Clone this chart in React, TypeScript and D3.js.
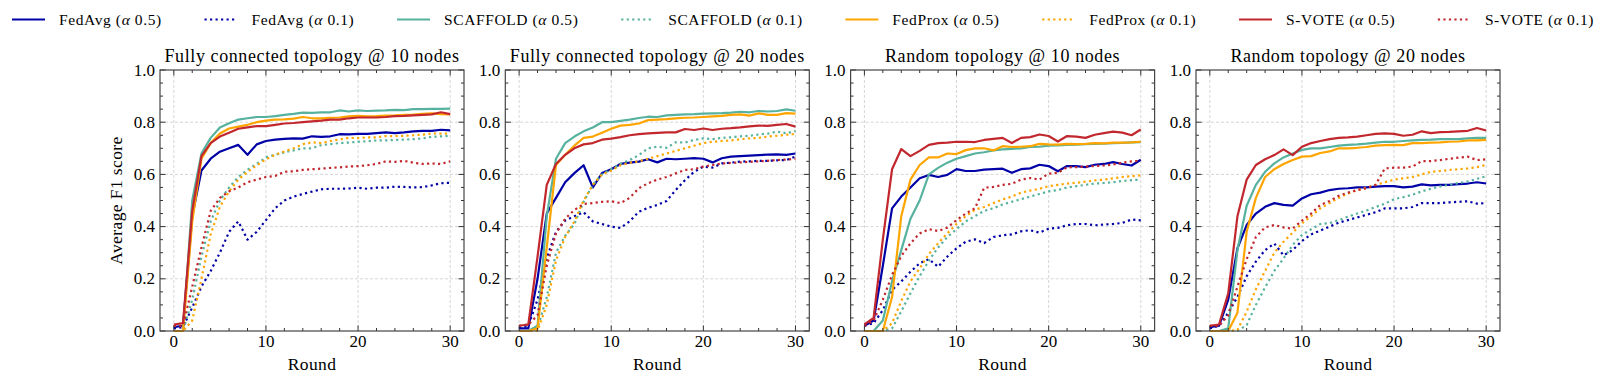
import React, { useEffect, useRef } from 'react';
import * as d3 from 'd3';

const rounds = [0, 1, 2, 3, 4, 5, 6, 7, 8, 9, 10, 11, 12, 13, 14, 15, 16, 17, 18, 19, 20, 21, 22, 23, 24, 25, 26, 27, 28, 29, 30];
const methods = ['FedAvg', 'SCAFFOLD', 'FedProx', 'S-VOTE'];
const alphas = ['0.5', '0.1'];
const methodColors = ['#0000a7', '#56b29e', '#ffa500', '#c1272d'];
const titles = [
  'Fully connected topology @ 10 nodes',
  'Fully connected topology @ 20 nodes',
  'Random topology @ 10 nodes',
  'Random topology @ 20 nodes',
];
const xTicks = [0, 10, 20, 30];
const yTicks = [0, 0.2, 0.4, 0.6, 0.8, 1.0];

// fully connected, 10 nodes
const fc10FedAvg05 = [0.015, 0.02, 0.44, 0.615, 0.66, 0.687, 0.70, 0.713, 0.675, 0.715, 0.728, 0.733, 0.736, 0.738, 0.737, 0.746, 0.744, 0.746, 0.754, 0.753, 0.755, 0.755, 0.758, 0.761, 0.758, 0.761, 0.765, 0.767, 0.767, 0.771, 0.769];
const fc10FedAvg01 = [0.01, 0.015, 0.09, 0.17, 0.23, 0.30, 0.38, 0.42, 0.35, 0.38, 0.425, 0.47, 0.50, 0.515, 0.525, 0.534, 0.543, 0.545, 0.545, 0.546, 0.549, 0.545, 0.549, 0.549, 0.553, 0.552, 0.55, 0.551, 0.558, 0.566, 0.568];
const fc10Scaffold05 = [0.0, 0.0, 0.50, 0.68, 0.74, 0.78, 0.796, 0.81, 0.815, 0.82, 0.82, 0.823, 0.828, 0.832, 0.837, 0.836, 0.838, 0.838, 0.845, 0.841, 0.845, 0.843, 0.844, 0.845, 0.847, 0.846, 0.85, 0.85, 0.851, 0.851, 0.852];
const fc10Scaffold01 = [0.0, 0.0, 0.12, 0.285, 0.42, 0.50, 0.55, 0.59, 0.618, 0.64, 0.665, 0.675, 0.685, 0.692, 0.70, 0.70, 0.712, 0.716, 0.72, 0.722, 0.725, 0.727, 0.73, 0.73, 0.732, 0.733, 0.735, 0.738, 0.744, 0.746, 0.748];
const fc10FedProx05 = [0.0, 0.0, 0.42, 0.66, 0.72, 0.757, 0.776, 0.783, 0.79, 0.80, 0.806, 0.81, 0.811, 0.814, 0.82, 0.815, 0.815, 0.817, 0.818, 0.822, 0.824, 0.822, 0.823, 0.825, 0.826, 0.828, 0.829, 0.832, 0.834, 0.831, 0.83];
const fc10FedProx01 = [0.0, 0.0, 0.04, 0.2, 0.37, 0.475, 0.535, 0.58, 0.61, 0.635, 0.658, 0.675, 0.688, 0.70, 0.716, 0.723, 0.72, 0.728, 0.734, 0.74, 0.739, 0.742, 0.742, 0.747, 0.747, 0.748, 0.75, 0.752, 0.757, 0.756, 0.757];
const fc10SVote05 = [0.025, 0.03, 0.46, 0.67, 0.72, 0.745, 0.76, 0.775, 0.78, 0.785, 0.785, 0.79, 0.795, 0.797, 0.80, 0.803, 0.806, 0.81, 0.81, 0.815, 0.818, 0.818, 0.818, 0.82, 0.823, 0.824, 0.826, 0.828, 0.83, 0.838, 0.831];
const fc10SVote01 = [0.02, 0.02, 0.17, 0.32, 0.46, 0.51, 0.535, 0.55, 0.57, 0.58, 0.59, 0.594, 0.61, 0.612, 0.617, 0.62, 0.622, 0.625, 0.627, 0.63, 0.632, 0.635, 0.64, 0.65, 0.648, 0.652, 0.645, 0.64, 0.642, 0.64, 0.65];

// fully connected, 20 nodes
const fc20FedAvg05 = [0.01, 0.01, 0.2, 0.45, 0.51, 0.57, 0.605, 0.635, 0.55, 0.605, 0.62, 0.64, 0.645, 0.649, 0.658, 0.646, 0.66, 0.658, 0.66, 0.662, 0.66, 0.646, 0.662, 0.668, 0.67, 0.672, 0.674, 0.676, 0.677, 0.675, 0.68];
const fc20FedAvg01 = [0.01, 0.02, 0.12, 0.28, 0.38, 0.423, 0.44, 0.455, 0.42, 0.41, 0.40, 0.395, 0.42, 0.457, 0.472, 0.483, 0.498, 0.54, 0.578, 0.61, 0.63, 0.626, 0.642, 0.645, 0.649, 0.65, 0.652, 0.652, 0.654, 0.655, 0.668];
const fc20Scaffold05 = [0.0, 0.0, 0.02, 0.44, 0.66, 0.72, 0.745, 0.765, 0.78, 0.80, 0.80, 0.805, 0.81, 0.816, 0.821, 0.82, 0.826, 0.828, 0.83, 0.831, 0.833, 0.834, 0.835, 0.837, 0.84, 0.838, 0.843, 0.841, 0.843, 0.849, 0.844];
const fc20Scaffold01 = [0.0, 0.0, 0.01, 0.13, 0.30, 0.365, 0.41, 0.495, 0.56, 0.60, 0.62, 0.64, 0.655, 0.674, 0.70, 0.706, 0.702, 0.723, 0.722, 0.732, 0.738, 0.735, 0.74, 0.742, 0.746, 0.748, 0.753, 0.756, 0.764, 0.758, 0.766];
const fc20FedProx05 = [0.0, 0.0, 0.01, 0.32, 0.636, 0.675, 0.71, 0.74, 0.745, 0.76, 0.775, 0.787, 0.79, 0.795, 0.808, 0.81, 0.812, 0.815, 0.817, 0.818, 0.82, 0.822, 0.824, 0.828, 0.83, 0.825, 0.834, 0.828, 0.828, 0.835, 0.833];
const fc20FedProx01 = [0.0, 0.0, 0.0, 0.1, 0.27, 0.36, 0.42, 0.50, 0.56, 0.60, 0.615, 0.635, 0.645, 0.65, 0.66, 0.67, 0.68, 0.69, 0.70, 0.71, 0.72, 0.725, 0.728, 0.73, 0.735, 0.738, 0.74, 0.745, 0.748, 0.752, 0.755];
const fc20SVote05 = [0.02, 0.025, 0.285, 0.56, 0.64, 0.675, 0.70, 0.715, 0.72, 0.733, 0.737, 0.743, 0.75, 0.754, 0.757, 0.759, 0.761, 0.761, 0.774, 0.77, 0.776, 0.77, 0.775, 0.777, 0.78, 0.784, 0.787, 0.786, 0.79, 0.793, 0.783];
const fc20SVote01 = [0.02, 0.025, 0.06, 0.25, 0.374, 0.43, 0.464, 0.487, 0.49, 0.495, 0.497, 0.49, 0.51, 0.547, 0.566, 0.58, 0.59, 0.604, 0.617, 0.62, 0.63, 0.636, 0.642, 0.644, 0.646, 0.648, 0.65, 0.652, 0.655, 0.657, 0.66];

// random, 10 nodes
const rd10FedAvg05 = [0.02, 0.04, 0.25, 0.47, 0.515, 0.55, 0.585, 0.598, 0.59, 0.598, 0.62, 0.613, 0.613, 0.618, 0.62, 0.622, 0.606, 0.62, 0.623, 0.637, 0.632, 0.612, 0.632, 0.632, 0.628, 0.637, 0.64, 0.647, 0.64, 0.634, 0.656];
const rd10FedAvg01 = [0.02, 0.03, 0.08, 0.157, 0.19, 0.227, 0.26, 0.275, 0.246, 0.285, 0.317, 0.342, 0.351, 0.337, 0.36, 0.367, 0.37, 0.382, 0.386, 0.377, 0.392, 0.395, 0.405, 0.41, 0.41, 0.405, 0.408, 0.41, 0.414, 0.427, 0.424];
const rd10Scaffold05 = [0.0, 0.0, 0.04, 0.19, 0.31, 0.43, 0.50, 0.60, 0.625, 0.645, 0.66, 0.67, 0.68, 0.685, 0.692, 0.696, 0.698, 0.70, 0.705, 0.706, 0.71, 0.711, 0.713, 0.714, 0.716, 0.717, 0.718, 0.72, 0.721, 0.723, 0.724];
const rd10Scaffold01 = [0.0, 0.0, 0.0, 0.01, 0.075, 0.145, 0.21, 0.27, 0.32, 0.36, 0.39, 0.42, 0.44, 0.46, 0.47, 0.485, 0.495, 0.505, 0.515, 0.525, 0.535, 0.54, 0.55, 0.555, 0.56, 0.565, 0.567, 0.57, 0.575, 0.578, 0.58];
const rd10FedProx05 = [0.0, 0.0, 0.0, 0.13, 0.44, 0.58, 0.636, 0.665, 0.665, 0.68, 0.678, 0.693, 0.70, 0.70, 0.692, 0.708, 0.705, 0.706, 0.708, 0.717, 0.715, 0.714, 0.717, 0.716, 0.717, 0.72, 0.719, 0.722, 0.722, 0.723, 0.725];
const rd10FedProx01 = [0.0, 0.0, 0.0, 0.03, 0.115, 0.19, 0.24, 0.295, 0.336, 0.374, 0.41, 0.44, 0.465, 0.475, 0.49, 0.504, 0.515, 0.53, 0.538, 0.545, 0.555, 0.56, 0.565, 0.568, 0.572, 0.577, 0.58, 0.585, 0.59, 0.593, 0.596];
const rd10SVote05 = [0.025, 0.05, 0.35, 0.62, 0.697, 0.67, 0.69, 0.713, 0.72, 0.722, 0.725, 0.725, 0.724, 0.732, 0.736, 0.74, 0.72, 0.74, 0.743, 0.753, 0.747, 0.726, 0.747, 0.745, 0.74, 0.752, 0.758, 0.764, 0.76, 0.75, 0.772];
const rd10SVote01 = [0.02, 0.04, 0.12, 0.215, 0.287, 0.336, 0.374, 0.39, 0.383, 0.396, 0.425, 0.45, 0.47, 0.549, 0.552, 0.56, 0.564, 0.58, 0.586, 0.58, 0.603, 0.606, 0.627, 0.628, 0.63, 0.632, 0.634, 0.638, 0.645, 0.65, 0.652];

// random, 20 nodes
const rd20FedAvg05 = [0.015, 0.02, 0.12, 0.317, 0.406, 0.45, 0.476, 0.49, 0.483, 0.48, 0.508, 0.524, 0.53, 0.54, 0.545, 0.547, 0.55, 0.55, 0.553, 0.555, 0.555, 0.55, 0.553, 0.562, 0.558, 0.56, 0.56, 0.563, 0.565, 0.57, 0.565];
const rd20FedAvg01 = [0.01, 0.02, 0.07, 0.13, 0.21, 0.266, 0.31, 0.335, 0.29, 0.31, 0.345, 0.37, 0.385, 0.40, 0.415, 0.425, 0.435, 0.445, 0.455, 0.47, 0.47, 0.47, 0.475, 0.49, 0.49, 0.49, 0.493, 0.495, 0.497, 0.488, 0.49];
const rd20Scaffold05 = [0.0, 0.0, 0.01, 0.31, 0.48, 0.56, 0.61, 0.642, 0.665, 0.68, 0.694, 0.70, 0.70, 0.705, 0.71, 0.713, 0.715, 0.718, 0.722, 0.725, 0.725, 0.728, 0.73, 0.732, 0.733, 0.735, 0.735, 0.735, 0.738, 0.74, 0.74];
const rd20Scaffold01 = [0.0, 0.0, 0.0, 0.0, 0.023, 0.10, 0.167, 0.23, 0.278, 0.33, 0.368, 0.39, 0.41, 0.413, 0.425, 0.438, 0.45, 0.462, 0.475, 0.488, 0.505, 0.513, 0.522, 0.535, 0.545, 0.554, 0.56, 0.567, 0.573, 0.583, 0.593];
const rd20FedProx05 = [0.0, 0.0, 0.0, 0.07, 0.38, 0.51, 0.59, 0.62, 0.64, 0.655, 0.668, 0.67, 0.682, 0.688, 0.70, 0.70, 0.702, 0.705, 0.71, 0.712, 0.713, 0.712, 0.72, 0.72, 0.722, 0.723, 0.725, 0.726, 0.73, 0.73, 0.732];
const rd20FedProx01 = [0.0, 0.0, 0.0, 0.004, 0.074, 0.16, 0.23, 0.30, 0.342, 0.377, 0.412, 0.44, 0.47, 0.49, 0.51, 0.527, 0.54, 0.549, 0.56, 0.57, 0.58, 0.585, 0.59, 0.60, 0.61, 0.613, 0.617, 0.62, 0.623, 0.628, 0.636];
const rd20SVote05 = [0.02, 0.025, 0.144, 0.44, 0.58, 0.636, 0.658, 0.674, 0.696, 0.674, 0.706, 0.72, 0.728, 0.735, 0.74, 0.742, 0.745, 0.75, 0.755, 0.757, 0.755, 0.748, 0.752, 0.765, 0.758, 0.762, 0.763, 0.765, 0.767, 0.778, 0.768];
const rd20SVote01 = [0.02, 0.02, 0.06, 0.17, 0.275, 0.36, 0.397, 0.406, 0.397, 0.392, 0.423, 0.45, 0.483, 0.498, 0.518, 0.53, 0.54, 0.547, 0.56, 0.623, 0.626, 0.626, 0.63, 0.651, 0.651, 0.655, 0.66, 0.664, 0.668, 0.655, 0.658];

// series per panel, in legend order: method x alpha
const panelSeries = [
  [fc10FedAvg05, fc10FedAvg01, fc10Scaffold05, fc10Scaffold01, fc10FedProx05, fc10FedProx01, fc10SVote05, fc10SVote01],
  [fc20FedAvg05, fc20FedAvg01, fc20Scaffold05, fc20Scaffold01, fc20FedProx05, fc20FedProx01, fc20SVote05, fc20SVote01],
  [rd10FedAvg05, rd10FedAvg01, rd10Scaffold05, rd10Scaffold01, rd10FedProx05, rd10FedProx01, rd10SVote05, rd10SVote01],
  [rd20FedAvg05, rd20FedAvg01, rd20Scaffold05, rd20Scaffold01, rd20FedProx05, rd20FedProx01, rd20SVote05, rd20SVote01],
];

const W = 1611;
const H = 380;
const FONT = "'Liberation Serif', 'DejaVu Serif', serif";

const App = () => {
  const ref = useRef<SVGSVGElement>(null);

  useEffect(() => {
    document.body.style.margin = '0';
    const svg = d3.select(ref.current);
    svg.selectAll('*').remove();

    const keys = methods.flatMap((m, i) => alphas.map((a) => ({ m, a, color: methodColors[i], dotted: a === '0.1' })));

    // ---- legend
    const legend = svg.append('g').attr('font-family', FONT).attr('font-size', 15.5).attr('letter-spacing', 0.6);
    const lineLen = 33;
    const gap = 14;
    const items = keys.map((k) => {
      const g = legend.append('g');
      g.append('line')
        .attr('x1', 0).attr('x2', lineLen).attr('y1', 0).attr('y2', 0)
        .attr('stroke', k.color).attr('stroke-width', 2.2)
        .attr('stroke-dasharray', k.dotted ? '2.2 3.3' : null);
      const t = g.append('text').attr('x', lineLen + gap).attr('y', 5.2);
      t.append('tspan').text(`${k.m} (`);
      t.append('tspan').attr('font-style', 'italic').text('α');
      t.append('tspan').text(` ${k.a})`);
      const tw = (t.node() as SVGTextElement).getComputedTextLength();
      return { g, w: lineLen + gap + tw };
    });
    const legLeft = 12;
    const legRight = 1594;
    const total = d3.sum(items, (d) => d.w);
    const spacing = (legRight - legLeft - total) / (items.length - 1);
    let cx = legLeft;
    items.forEach((it) => {
      it.g.attr('transform', `translate(${cx},19.5)`);
      cx += it.w + spacing;
    });

    // ---- panels
    const panelLefts = [160, 505.3, 850.6, 1196];
    const pw = 304;
    const top = 70;
    const bottom = 331;

    panelSeries.forEach((series, pi) => {
      const left = panelLefts[pi];
      const x = d3.scaleLinear().domain([-1.5, 31.5]).range([left, left + pw]);
      const y = d3.scaleLinear().domain([0, 1]).range([bottom, top]);
      const g = svg.append('g');

      // grid
      g.selectAll('.gx').data(xTicks).enter().append('line')
        .attr('x1', (d) => x(d)).attr('x2', (d) => x(d)).attr('y1', top).attr('y2', bottom)
        .attr('stroke', '#c4c4c4').attr('stroke-width', 0.7).attr('stroke-dasharray', '3 2');
      g.selectAll('.gy').data(yTicks.slice(1, -1)).enter().append('line')
        .attr('x1', left).attr('x2', left + pw).attr('y1', (d) => y(d)).attr('y2', (d) => y(d))
        .attr('stroke', '#c4c4c4').attr('stroke-width', 0.7).attr('stroke-dasharray', '3 2');

      // lines
      const line = d3.line<number>().x((_, i) => x(rounds[i])).y((d) => y(d));
      series.forEach((vals, si) => {
        const k = keys[si];
        g.append('path')
          .attr('d', line(vals))
          .attr('fill', 'none')
          .attr('stroke', k.color)
          .attr('stroke-width', 2.2)
          .attr('stroke-linejoin', 'round')
          .attr('stroke-dasharray', k.dotted ? '2.2 3.3' : null);
      });

      // ticks (inside, all four sides)
      const xMinor = d3.range(0, 31, 2).filter((v) => v % 10 !== 0);
      const yMinor = d3.range(0.05, 1, 0.05).filter((v) => Math.abs(v * 5 - Math.round(v * 5)) > 1e-6);
      const tickCol = '#333';
      const drawX = (vals: number[], len: number) => {
        vals.forEach((v) => {
          g.append('line').attr('x1', x(v)).attr('x2', x(v)).attr('y1', bottom).attr('y2', bottom - len).attr('stroke', tickCol).attr('stroke-width', 1);
          g.append('line').attr('x1', x(v)).attr('x2', x(v)).attr('y1', top).attr('y2', top + len).attr('stroke', tickCol).attr('stroke-width', 1);
        });
      };
      const drawY = (vals: number[], len: number) => {
        vals.forEach((v) => {
          g.append('line').attr('x1', left).attr('x2', left + len).attr('y1', y(v)).attr('y2', y(v)).attr('stroke', tickCol).attr('stroke-width', 1);
          g.append('line').attr('x1', left + pw).attr('x2', left + pw - len).attr('y1', y(v)).attr('y2', y(v)).attr('stroke', tickCol).attr('stroke-width', 1);
        });
      };
      drawX(xTicks, 5.5);
      drawX(xMinor, 3);
      drawY(yTicks, 5.5);
      drawY(yMinor, 3);

      // frame
      g.append('rect')
        .attr('x', left).attr('y', top).attr('width', pw).attr('height', bottom - top)
        .attr('fill', 'none').attr('stroke', '#444').attr('stroke-width', 1.2);

      // tick labels
      const txt = g.append('g').attr('font-family', FONT).attr('fill', '#000');
      xTicks.forEach((v) => {
        txt.append('text').attr('x', x(v)).attr('y', 346.5).attr('font-size', 17).attr('text-anchor', 'middle').text(String(v));
      });
      yTicks.forEach((v) => {
        txt.append('text').attr('x', left - 5).attr('y', y(v) + 5.6).attr('font-size', 17).attr('text-anchor', 'end').text(v.toFixed(1));
      });
      txt.append('text').attr('x', left + pw / 2).attr('y', 370).attr('font-size', 17.5).attr('letter-spacing', 0.4)
        .attr('text-anchor', 'middle').text('Round');
      txt.append('text').attr('x', left + pw / 2).attr('y', 62).attr('font-size', 18).attr('letter-spacing', 0.6)
        .attr('text-anchor', 'middle').text(titles[pi]);
      if (pi === 0) {
        txt.append('text')
          .attr('transform', `translate(121.5,${(top + bottom) / 2}) rotate(-90)`)
          .attr('font-size', 17.5).attr('letter-spacing', 0.4)
          .attr('text-anchor', 'middle')
          .text('Average F1 score');
      }
    });
  }, []);

  return (
    <div>
      <svg ref={ref} width={W} height={H} style={{ display: 'block', background: '#fff' }}></svg>
    </div>
  );
};

export default App;
